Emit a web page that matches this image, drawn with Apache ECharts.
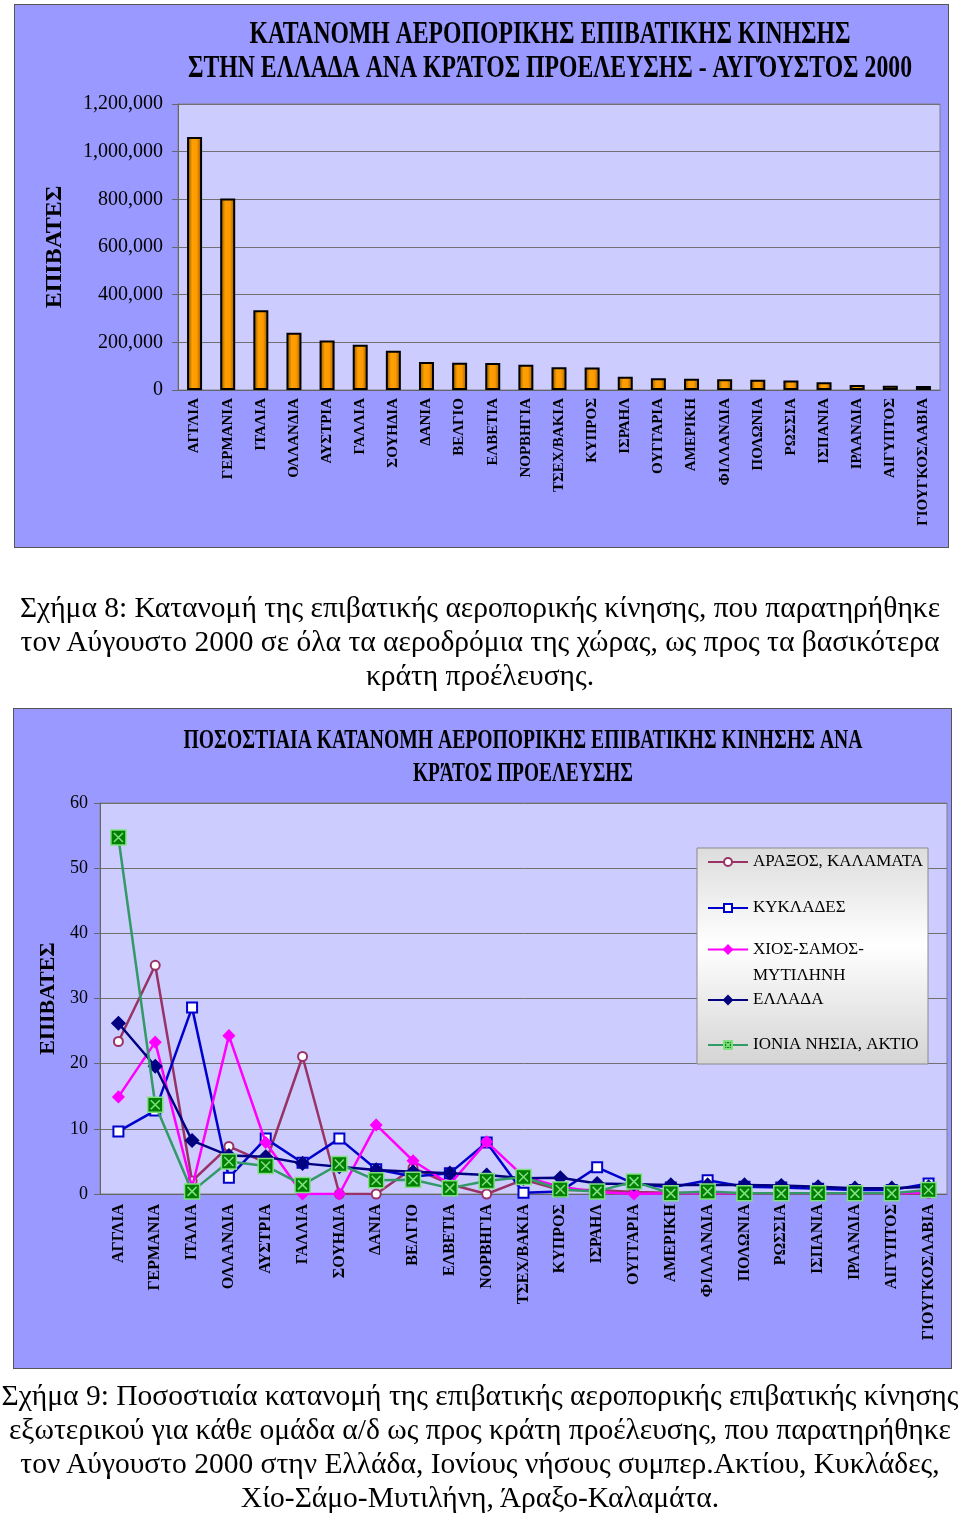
<!DOCTYPE html>
<html>
<head>
<meta charset="utf-8">
<script src="https://cdn.jsdelivr.net/npm/echarts@6/dist/echarts.min.js"></script>
<style>
html,body{margin:0;padding:0;background:#fff;}
.frame{position:absolute;background:#9999ff;border:1px solid #555;box-sizing:border-box;}
#chart{position:absolute;left:0;top:0;width:960px;height:1513px;}
.cap{position:absolute;left:0;width:960px;text-align:center;font-family:'Liberation Serif','Times New Roman',serif;font-size:29.5px;line-height:34px;color:#000;white-space:nowrap;}
</style>
</head>
<body>
<div class="frame" style="left:14px;top:4px;width:935px;height:544px;"></div>
<div class="frame" style="left:13px;top:708px;width:939px;height:661px;"></div>
<div id="chart"></div>
<div class="cap" style="top:590px">Σχήμα 8: Κατανομή της επιβατικής αεροπορικής κίνησης, που παρατηρήθηκε<br>τον Αύγουστο 2000 σε όλα τα αεροδρόμια της χώρας, ως προς τα βασικότερα<br>κράτη προέλευσης.</div>
<div class="cap" style="top:1378px">Σχήμα 9: Ποσοστιαία κατανομή της επιβατικής αεροπορικής επιβατικής κίνησης<br>εξωτερικού για κάθε ομάδα α/δ ως προς κράτη προέλευσης, που παρατηρήθηκε<br>τον Αύγουστο 2000 στην Ελλάδα, Ιονίους νήσους συμπερ.Ακτίου, Κυκλάδες,<br>Χίο-Σάμο-Μυτιλήνη, Άραξο-Καλαμάτα.</div>
<script>
// ---------- DATA ----------
const categories = ['ΑΓΓΛΙΑ','ΓΕΡΜΑΝΙΑ','ΙΤΑΛΙΑ','ΟΛΛΑΝΔΙΑ','ΑΥΣΤΡΙΑ','ΓΑΛΛΙΑ','ΣΟΥΗΔΙΑ','ΔΑΝΙΑ','ΒΕΛΓΙΟ','ΕΛΒΕΤΙΑ','ΝΟΡΒΗΓΙΑ','ΤΣΕΧ/ΒΑΚΙΑ','ΚΥΠΡΟΣ','ΙΣΡΑΗΛ','ΟΥΓΓΑΡΙΑ','ΑΜΕΡΙΚΗ','ΦΙΛΛΑΝΔΙΑ','ΠΟΛΩΝΙΑ','ΡΩΣΣΙΑ','ΙΣΠΑΝΙΑ','ΙΡΛΑΝΔΙΑ','ΑΙΓΥΠΤΟΣ','ΓΙΟΥΓΚΟΣΛΑΒΙΑ'];
const passengers = [1062000, 804000, 335000, 240000, 208000, 190000, 165000, 117000, 114000, 113000, 106000, 95000, 94000, 56000, 49000, 47000, 45000, 43000, 40000, 32000, 21000, 18000, 17000];

const seriesNames = ['ΑΡΑΞΟΣ, ΚΑΛΑΜΑΤΑ','ΚΥΚΛΑΔΕΣ','ΧΙΟΣ-ΣΑΜΟΣ-ΜΥΤΙΛΗΝΗ','ΕΛΛΑΔΑ','ΙΟΝΙΑ ΝΗΣΙΑ, ΑΚΤΙΟ'];
const araxosKalamata = [23.4, 35.1, 2.0, 7.3, 4.8, 21.1, 0, 0, 4.0, 1.5, 0, 2.2, 0.6, 0.6, 0.3, 0.2, 0.1, 0.1, 0.1, 0.1, 0.1, 0.1, 0.1];
const kyklades = [9.6, 12.8, 28.6, 2.5, 8.5, 4.8, 8.5, 3.8, 2.7, 3.2, 7.9, 0.2, 0.4, 4.1, 1.6, 1.0, 2.1, 1.1, 1.0, 0.8, 0.6, 0.6, 1.6];
const chiosSamosMytilini = [14.9, 23.3, 1.0, 24.3, 7.9, 0, 0, 10.6, 5.1, 1.5, 8.0, 2.7, 1.1, 0.3, 0, 0.1, 0.1, 0.1, 0.1, 0.1, 0.1, 0.1, 0.2];
const ellada = [26.2, 19.6, 8.2, 5.9, 5.7, 4.7, 4.2, 3.7, 3.4, 3.2, 2.9, 2.4, 2.5, 1.6, 1.5, 1.4, 1.4, 1.4, 1.3, 1.1, 0.9, 0.9, 1.1];
const ioniaAktio = [54.7, 13.7, 0.4, 5.0, 4.3, 1.4, 4.6, 2.1, 2.2, 0.9, 2.0, 2.6, 0.7, 0.4, 1.9, 0.1, 0.4, 0.1, 0.1, 0.1, 0.1, 0.1, 0.6];

const yTicksTop = {min: 0, max: 1200000, interval: 200000};
const yTicksBottom = {min: 0, max: 60, interval: 10};

const title1 = ['ΚΑΤΑΝΟΜΗ ΑΕΡΟΠΟΡΙΚΗΣ ΕΠΙΒΑΤΙΚΗΣ ΚΙΝΗΣΗΣ', 'ΣΤΗΝ ΕΛΛΑΔΑ ΑΝΑ ΚΡΆΤΟΣ ΠΡΟΕΛΕΥΣΗΣ - ΑΥΓΌΥΣΤΟΣ 2000'];
const title2 = ['ΠΟΣΟΣΤΙΑΙΑ ΚΑΤΑΝΟΜΗ ΑΕΡΟΠΟΡΙΚΗΣ ΕΠΙΒΑΤΙΚΗΣ ΚΙΝΗΣΗΣ ΑΝΑ', 'ΚΡΆΤΟΣ ΠΡΟΕΛΕΥΣΗΣ'];
const yName = 'ΕΠΙΒΑΤΕΣ';

// ---------- LAYOUT ----------
const SERIF = "'Liberation Serif','Times New Roman',serif";
const mctx = document.createElement('canvas').getContext('2d');
function fitScale(text, font, width) { mctx.font = font; return width / mctx.measureText(text).width; }
function titleText(text, cx, cy, size, width) {
  const font = 'bold ' + size + 'px ' + SERIF;
  return { type: 'text', x: cx, y: cy, scaleX: fitScale(text, font, width), z: 10,
    style: { text: text, font: font, fill: '#000', textAlign: 'center', textVerticalAlign: 'middle' } };
}

const chart = echarts.init(document.getElementById('chart'), null, {renderer: 'canvas'});

const barGradient = new echarts.graphic.LinearGradient(0, 0, 1, 0, [
  {offset: 0, color: '#7a4c00'},
  {offset: 0.35, color: '#ffa000'},
  {offset: 0.65, color: '#ff9a00'},
  {offset: 1, color: '#8a5600'}
]);

const axisGray = '#666';
function catAxis(gridIndex, fontSize, margin) {
  return {
    gridIndex: gridIndex, type: 'category', data: categories,
    axisLine: {lineStyle: {color: axisGray, width: 1}},
    axisTick: {length: 5, lineStyle: {color: axisGray}},
    axisLabel: {rotate: 90, interval: 0, margin: margin, color: '#000', fontFamily: SERIF, fontWeight: 'bold', fontSize: fontSize}
  };
}
function valAxis(gridIndex, ticks, nameGap, nameSize, labelSize, margin, formatter) {
  return Object.assign({
    gridIndex: gridIndex, type: 'value',
    name: yName, nameLocation: 'middle', nameRotate: 90, nameGap: nameGap,
    nameTextStyle: {fontFamily: SERIF, fontWeight: 'bold', fontSize: nameSize, color: '#000'},
    axisLine: {show: true, lineStyle: {color: axisGray}},
    axisTick: {show: true, length: 6, lineStyle: {color: axisGray}},
    axisLabel: {margin: margin, color: '#000', fontFamily: SERIF, fontSize: labelSize, formatter: formatter},
    splitLine: {lineStyle: {color: '#707070', width: 1}}
  }, ticks);
}

const greenX = 'path://M0,0H20V20H0Z M4,4L16,16 M16,4L4,16';
const lineStyles = [
  {color: '#993366', symbol: 'emptyCircle', symbolSize: 9},
  {color: '#0000cc', symbol: 'emptyRect', symbolSize: 10},
  {color: '#ff00ff', symbol: 'diamond', symbolSize: 11},
  {color: '#000080', symbol: 'diamond', symbolSize: 13},
  {color: '#339966', symbol: greenX, symbolSize: 15, fill: '#008000', border: '#80e080'}
];
const lineData = [araxosKalamata, kyklades, chiosSamosMytilini, ellada, ioniaAktio];

const lineSeries = lineData.map((d, i) => {
  const st = lineStyles[i];
  return {
    type: 'line', name: seriesNames[i], xAxisIndex: 1, yAxisIndex: 1, data: d,
    symbol: st.symbol, symbolSize: st.symbolSize, showAllSymbol: true,
    lineStyle: {color: st.color, width: 2.5},
    itemStyle: st.fill ? {color: st.fill, borderColor: st.border, borderWidth: 1.5} : {color: st.color, borderColor: st.color, borderWidth: 1.5},
    color: st.fill || st.color,
    z: 3 + i
  };
});

// legend: one component per item, stacked inside the box
const legendCenters = [862, 908, 954, 1000, 1045];
const legends = seriesNames.map((n, i) => {
  const multi = (i === 2);
  return {
    data: [n], left: 707, top: multi ? legendCenters[i] - 39 : legendCenters[i] - 10,
    orient: 'vertical', padding: 0, itemWidth: 40, itemHeight: 10, itemGap: 0,
    selectedMode: false, z: 6,
    formatter: multi ? function () { return '{t| }\n{t|ΧΙΟΣ-ΣΑΜΟΣ-}\n{t|ΜΥΤΙΛΗΝΗ}'; } : undefined,
    textStyle: multi
      ? {rich: {t: {fontFamily: SERIF, fontSize: 17, lineHeight: 26, color: '#000'}}}
      : {fontFamily: SERIF, fontSize: 17, lineHeight: 20, color: '#000'}
  };
});

const option = {
  animation: false,
  backgroundColor: 'transparent',
  grid: [
    {left: 178, top: 104, width: 762, height: 286, show: true, backgroundColor: '#ccccff', borderColor: '#808080', borderWidth: 1, containLabel: false},
    {left: 100, top: 803, width: 847, height: 391, show: true, backgroundColor: '#ccccff', borderColor: '#808080', borderWidth: 1, containLabel: false}
  ],
  xAxis: [catAxis(0, 15, 8), catAxis(1, 16, 10)],
  yAxis: [
    valAxis(0, yTicksTop, 111, 24, 20, 15, v => v.toLocaleString('en-US')),
    valAxis(1, yTicksBottom, 38, 22, 18, 12, v => String(v))
  ],
  legend: legends,
  graphic: [
    titleText(title1[0], 550, 35, 32, 601),
    titleText(title1[1], 550, 69, 32, 724),
    titleText(title2[0], 523, 741, 28, 679),
    titleText(title2[1], 523, 774, 28, 220),
    {type: 'rect', z: 5, shape: {x: 697, y: 848, width: 231, height: 216},
     style: {stroke: '#8a8a8a', lineWidth: 1,
       fill: new echarts.graphic.LinearGradient(0, 0, 0, 1, [
         {offset: 0, color: '#dcdcdc'}, {offset: 0.45, color: '#ffffff'}, {offset: 1, color: '#d4d4d4'}])}}
  ],
  series: [
    {type: 'bar', xAxisIndex: 0, yAxisIndex: 0, data: passengers, barWidth: 15,
     itemStyle: {color: barGradient, borderColor: '#000', borderWidth: 2}}
  ].concat(lineSeries)
};
chart.setOption(option);
</script>
</body>
</html>
